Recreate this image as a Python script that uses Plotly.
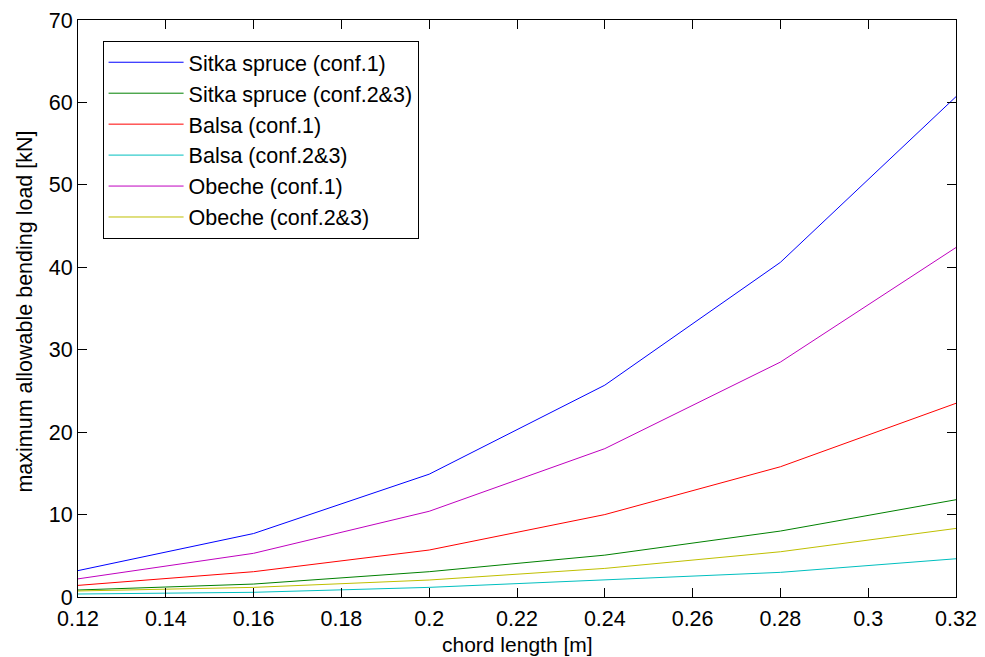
import plotly.graph_objects as go

chord = [0.12, 0.16, 0.20, 0.24, 0.28, 0.32]
sitka_1 = [3.2, 7.7, 14.9, 25.7, 40.6, 60.7]
sitka_23 = [0.85, 1.57, 3.07, 5.08, 8.0, 11.8]
balsa_1 = [1.41, 3.07, 5.7, 10.0, 15.8, 23.5]
balsa_23 = [0.36, 0.57, 1.17, 2.06, 2.99, 4.64]
obeche_1 = [2.2, 5.3, 10.4, 18.0, 28.5, 42.4]
obeche_23 = [0.73, 1.17, 2.06, 3.47, 5.49, 8.32]

names = ["Sitka spruce (conf.1)", "Sitka spruce (conf.2&3)", "Balsa (conf.1)",
         "Balsa (conf.2&3)", "Obeche (conf.1)", "Obeche (conf.2&3)"]
series = [sitka_1, sitka_23, balsa_1, balsa_23, obeche_1, obeche_23]
colors = ["#0000ff", "#008000", "#ff0000", "#00bfbf", "#bf00bf", "#bfbf00"]

xticks = [0.12, 0.14, 0.16, 0.18, 0.2, 0.22, 0.24, 0.26, 0.28, 0.3, 0.32]
xtick_text = ["0.12", "0.14", "0.16", "0.18", "0.2", "0.22", "0.24", "0.26", "0.28", "0.3", "0.32"]
yticks = [0, 10, 20, 30, 40, 50, 60, 70]
x_title = "chord length [m]"
y_title = "maximum allowable bending load [kN]"

FONT = "Liberation Sans, Arial, sans-serif"

fig = go.Figure()
for i, (n, s, c) in enumerate(zip(names, series, colors)):
    fig.add_trace(go.Scatter(x=chord, y=s, name=n, mode="lines",
                             line=dict(color=c, width=1), legendgroup=f"g{i}"))

axis_common = dict(showline=True, linecolor="black", linewidth=1, mirror="ticks",
                   ticks="inside", ticklen=9, tickcolor="black", tickwidth=1,
                   showgrid=False, zeroline=False, automargin=False,
                   tickfont=dict(family=FONT, size=21.5, color="black"))

fig.update_layout(
    width=985, height=657,
    margin=dict(l=78, r=29, t=20, b=60),
    plot_bgcolor="white", paper_bgcolor="white",
    font=dict(family=FONT, color="black"),
    xaxis=dict(range=[0.12, 0.32], tickvals=xticks, ticktext=xtick_text,
               ticklabelstandoff=2, **axis_common),
    yaxis=dict(range=[0, 70], tickvals=yticks, **axis_common),
    legend=dict(x=0.028, y=0.964, xanchor="left", yanchor="top",
                bordercolor="black", borderwidth=1, bgcolor="white",
                font=dict(size=21.5, color="black"), tracegroupgap=0, itemwidth=75),
    showlegend=True,
    annotations=[
        dict(text=y_title, xref="paper", yref="paper",
             x=-0.0614, y=0.4948, xanchor="center", yanchor="middle",
             textangle=-90, showarrow=False,
             font=dict(family=FONT, size=21.5, color="black")),
        dict(text=x_title, xref="paper", yref="paper",
             x=0.5, y=-0.0815, xanchor="center", yanchor="middle",
             showarrow=False,
             font=dict(family=FONT, size=21, color="black")),
    ],
)

fig.write_html("out.html")
